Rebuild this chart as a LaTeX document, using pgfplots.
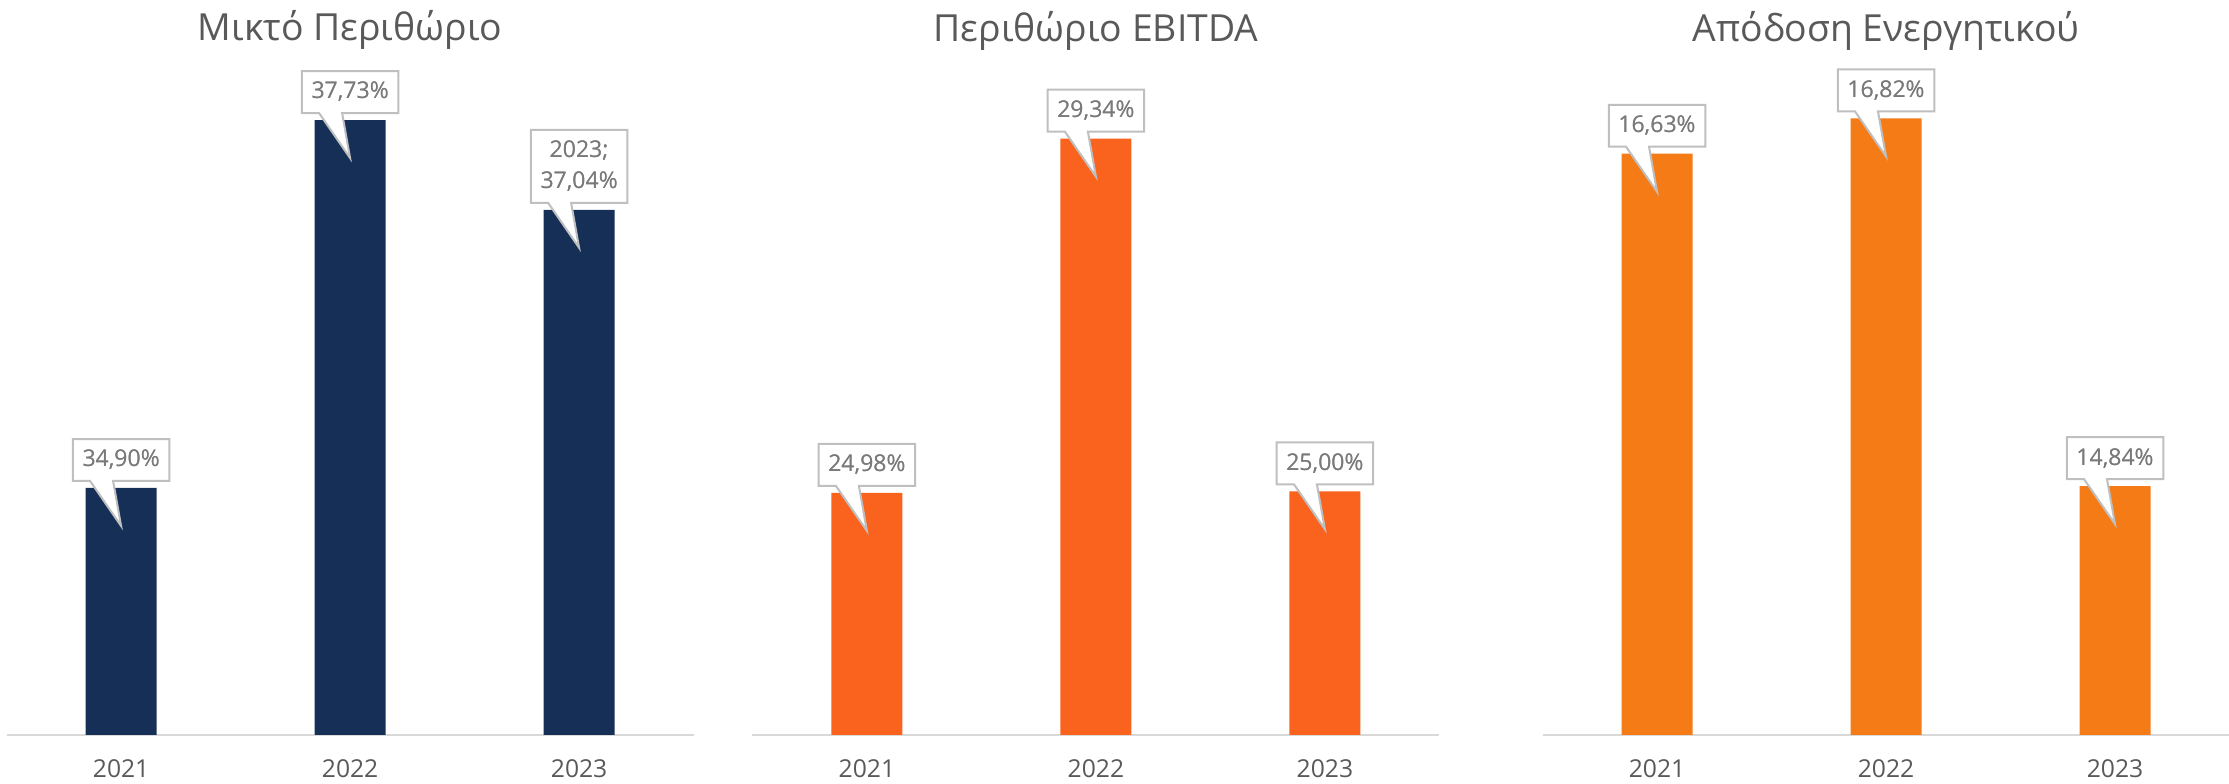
\documentclass[border=0pt]{standalone}
\usepackage{pgfplots}
\pgfplotsset{compat=1.18}
\usepackage{fontspec}
\setmainfont{Open Sans}
\definecolor{navy}{HTML}{152F57}
\definecolor{orA}{HTML}{F9631E}
\definecolor{orB}{HTML}{F47B16}
\definecolor{lblgray}{HTML}{7A7A7A}
\definecolor{boxgray}{HTML}{BFBFBF}
\definecolor{titlegray}{HTML}{595959}
\definecolor{axgray}{HTML}{D9D9D9}
\protected\def\labC{2023;\\37,04\%}
\newcommand\pct[1]{\pgfmathprintnumber[fixed,fixed zerofill,precision=2,use comma,assume math mode=true]{#1}\%}
\tikzset{
  lbl/.style={anchor=south, yshift=2.1pt, align=center, inner xsep=2.7pt, inner ysep=3.15pt,
    font=\fontsize{6.9}{9.3}\selectfont, text=lblgray},
  callout/.style={lbl, append after command={\pgfextra{\draw[boxgray, line width=0.6pt, fill=white, line join=miter]
    (\tikzlastnode.north west) -- (\tikzlastnode.north east) -- (\tikzlastnode.south east)
    -- ([xshift=-2.4pt]\tikzlastnode.south) -- ([yshift=-13.5pt]\tikzlastnode.south)
    -- ([xshift=-9.3pt]\tikzlastnode.south) -- (\tikzlastnode.south west) -- cycle;}}},
  ttl/.style={anchor=base, yshift=13.2pt, font=\fontsize{11.2}{13}\selectfont, text=titlegray},
}
\pgfplotsset{
  panel/.style={
    scale only axis, width=206.1pt, height=195pt,
    anchor=south west, clip mode=individual,
    xmin=-0.5, xmax=2.5,
    axis x line*=bottom, axis y line=none,
    axis line style={draw=axgray, line width=0.6pt, -},
    xtick={0,1,2}, xticklabels={2021,2022,2023},
    major tick length=0pt,
    xtick style={draw=none},
    xticklabel style={anchor=base, yshift=-12.9pt, font=\fontsize{7.4}{8.5}\selectfont, text=titlegray},
    ytick=\empty,
  },
  nncA/.style={point meta=y, nodes near coords={\pct{\pgfplotspointmeta}}},
  nncB/.style={point meta=y, nodes near coords={\ifnum\coordindex=2 \labC\else\pct{\pgfplotspointmeta}\fi}},
}
\begin{document}
\begin{tikzpicture}
\useasboundingbox (0,0) rectangle (668.7pt,235.2pt);
% Panel 1
\begin{axis}[panel, at={(1.98pt,14.7pt)}, ymin=33, ymax=38]
\addplot[ybar, bar width=21.3pt, bar shift=0pt, fill=navy, draw=none, nncB,
  every node near coord/.append style={callout}]
  coordinates {(0,34.90) (1,37.73) (2,37.04)};
\addplot[draw=none, mark=none, nncB,
  every node near coord/.append style={lbl}]
  coordinates {(0,34.90) (1,37.73) (2,37.04)};
\node[ttl] at (rel axis cs:0.5,1) {Μικτό Περιθώριο};
\end{axis}
% Panel 2
\begin{axis}[panel, at={(225.72pt,14.7pt)}, ymin=22, ymax=30]
\addplot[ybar, bar width=21.3pt, bar shift=0pt, fill=orA, draw=none, nncA,
  every node near coord/.append style={callout}]
  coordinates {(0,24.98) (1,29.34) (2,25.00)};
\addplot[draw=none, mark=none, nncA,
  every node near coord/.append style={lbl}]
  coordinates {(0,24.98) (1,29.34) (2,25.00)};
\node[ttl] at (rel axis cs:0.5,1) {Περιθώριο EBITDA};
\end{axis}
% Panel 3
\begin{axis}[panel, at={(462.75pt,14.7pt)}, ymin=13.5, ymax=17]
\addplot[ybar, bar width=21.3pt, bar shift=0pt, fill=orB, draw=none, nncA,
  every node near coord/.append style={callout}]
  coordinates {(0,16.63) (1,16.82) (2,14.84)};
\addplot[draw=none, mark=none, nncA,
  every node near coord/.append style={lbl}]
  coordinates {(0,16.63) (1,16.82) (2,14.84)};
\node[ttl] at (rel axis cs:0.5,1) {Απόδοση Ενεργητικού};
\end{axis}
\end{tikzpicture}
\end{document}
